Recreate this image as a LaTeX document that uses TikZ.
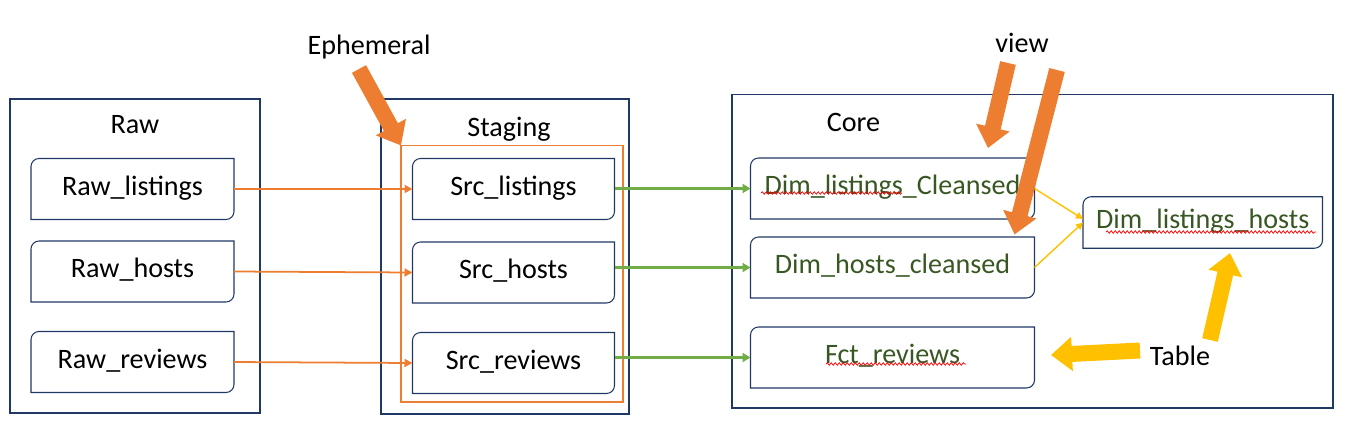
\documentclass[tikz,border=0pt]{standalone}
\usepackage{fontspec}
\setmainfont{Carlito}
\usepackage{xcolor}
\usetikzlibrary{arrows.meta, positioning, decorations.pathmorphing}

\definecolor{navy}{RGB}{32,56,100}
\definecolor{msorange}{RGB}{237,125,49}
\definecolor{msgreen}{RGB}{112,173,71}
\definecolor{msyellow}{RGB}{255,192,0}
\definecolor{coretext}{RGB}{56,87,35}

% box outline with two rounded corners (top left, bottom right)
\newcommand{\snipbox}[1]{%
  \draw[boxline] (#1.north east) -- ([xshift=0.16cm]#1.north west)
    arc[start angle=90, end angle=180, radius=0.16cm] -- (#1.south west)
    -- ([xshift=-0.16cm]#1.south east)
    arc[start angle=270, end angle=360, radius=0.16cm] -- cycle;}

\begin{document}
\begin{tikzpicture}[
    font=\fontsize{16}{19}\selectfont,
    layer/.style={rectangle, draw=navy, line width=0.6pt, outer sep=0pt},
    tbl/.style={rectangle, outer sep=0pt, minimum height=1.22cm, text height=11pt, text depth=4pt},
    boxline/.style={draw=navy, line width=0.6pt},
    feed/.style={draw=msorange, line width=1pt, -{Triangle[width=0.16cm, length=0.16cm]}},
    load/.style={draw=msgreen, line width=1.6pt, -{Triangle[width=0.18cm, length=0.16cm]}},
    merge/.style={draw=msyellow, line width=0.8pt, -{Triangle[width=0.14cm, length=0.14cm]}},
    callout/.style={line width=0.32cm, -{Triangle[width=0.66cm, length=0.42cm]}},
    squig/.style={draw=red, line width=0.4pt, decorate, decoration={snake, amplitude=0.025cm, segment length=0.08cm}}
]
    \useasboundingbox (0,0) rectangle (27.2,8.62);

    % Layers
    \node[layer, minimum width=5cm, minimum height=6.28cm] (raw) at (2.7,3.5) {};
    \node[layer, minimum width=4.96cm, minimum height=6.3cm] (stg) at (10.1,3.49) {};
    \node[layer, minimum width=12.02cm, minimum height=6.27cm] (core) at (20.65,3.595) {};
    \node[rectangle, draw=msorange, line width=0.6pt, outer sep=0pt, minimum width=4.44cm, minimum height=5.13cm] (eph) at (10.24,3.145) {};

    % Titles
    \node[anchor=base] (rawlbl) at (2.7,5.96) {Raw};
    \node[anchor=base] (stglbl) at (10.18,5.9) {Staging};
    \node[anchor=base] (corelbl) at (17.07,6.0) {Core};
    \node[anchor=base] (ephlbl) at (7.38,7.54) {Ephemeral};
    \node[anchor=base] (viewlbl) at (20.44,7.57) {view};
    \node[anchor=base] (tbllbl) at (23.6,1.32) {Table};

    % Tables
    \node[tbl, minimum width=4.06cm] (rl) at (2.65,4.84) {Raw\_listings};
    \node[tbl, minimum width=4.06cm] (rh) at (2.65,3.19) {Raw\_hosts};
    \node[tbl, minimum width=4.06cm] (rr) at (2.65,1.38) {Raw\_reviews};

    \node[tbl, minimum width=4.04cm] (sl) at (10.27,4.84) {Src\_listings};
    \node[tbl, minimum width=4.04cm] (sh) at (10.27,3.17) {Src\_hosts};
    \node[tbl, minimum width=4.04cm] (sr) at (10.27,1.36) {Src\_reviews};

    \node[tbl, minimum width=5.68cm, text=coretext] (dlc) at (17.85,4.85) {Dim\_listings\_Cleansed};
    \node[tbl, minimum width=5.68cm, text=coretext] (dhc) at (17.85,3.27) {Dim\_hosts\_cleansed};
    \node[tbl, minimum width=5.68cm, text=coretext] (fr) at (17.85,1.47) {Fct\_reviews};
    \node[tbl, minimum width=4.79cm, minimum height=1.03cm, text=coretext] (dlh) at (24.055,4.17) {Dim\_listings\_hosts};

    \foreach \b in {rl,rh,rr,sl,sh,sr,dlc,dhc,fr,dlh}
        \snipbox{\b};

    % spell check marks
    \draw[squig] (15.22,4.76) -- (18.04,4.76);
    \draw[squig] (22.12,3.98) -- (26.32,3.98);
    \draw[squig] (16.52,1.34) -- (19.32,1.34);

    % Connectors
    \foreach \a/\b in {rl/sl, rh/sh, rr/sr}
        \draw[feed] (\a.east) -- (\b.west);
    \foreach \a/\b in {sl/dlc, sh/dhc, sr/fr}
        \draw[load] (\a.east |- \b.west) -- (\b.west);
    \draw[merge] (dlc.east) -- ([yshift=2pt]dlh.west);
    \draw[merge] (dhc.east) -- (dlh.west);

    % Callouts
    \coordinate (ephtail) at (7.18,7.24);
    \coordinate (v1tail) at (20.16,7.36);
    \coordinate (v1tip) at (19.76,5.66);
    \coordinate (v2tail) at (21.14,7.22);
    \coordinate (v2tip) at (20.29,3.93);
    \coordinate (t1tail) at (22.8,1.61);
    \coordinate (t1tip) at (21.02,1.52);
    \coordinate (t2tail) at (24.2,1.82);
    \coordinate (t2tip) at (24.6,3.56);

    \draw[callout, msorange] (ephtail) -- (eph.north west);
    \draw[callout, msorange] (v1tail) -- (v1tip);
    \draw[callout, msorange] (v2tail) -- (v2tip);
    \draw[callout, msyellow] (t1tail) -- (t1tip);
    \draw[callout, msyellow] (t2tail) -- (t2tip);
\end{tikzpicture}
\end{document}
